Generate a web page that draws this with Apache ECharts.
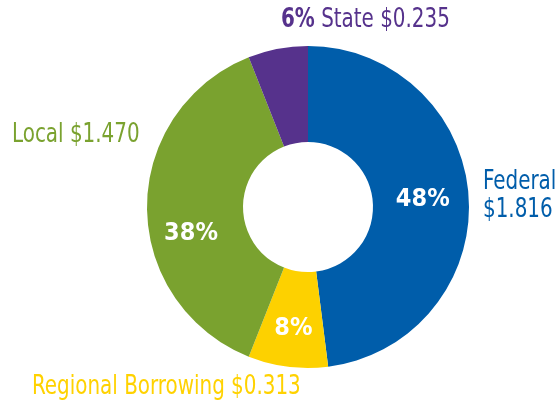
<!DOCTYPE html>
<html>
<head>
<meta charset="utf-8">
<script src="https://cdn.jsdelivr.net/npm/echarts@6/dist/echarts.min.js"></script>
<style>
  html, body { margin: 0; padding: 0; background: #fff; }
  #chart { width: 557px; height: 404px; }
</style>
</head>
<body>
<div id="chart"></div>
<script>
const names = ['Federal', 'Regional Borrowing', 'Local', 'State']
const amounts = [1.816, 0.313, 1.470, 0.235]
// the slices in the original follow the rounded shares
const shares = [48, 8, 38, 6]
const colors = ['#005DAA', '#FDD100', '#7AA22F', '#56328C']

const font = '"DejaVu Sans Condensed", "Liberation Sans Narrow", sans-serif'
const squeeze = 0.82

// small nudges so the inside labels sit where the original has them
const labelOffsets = [[-1, 0], [0, 6], [-1, 26], [0, 0]]

const chart = echarts.init(document.getElementById('chart'))

function outText(x, y, text, color, extra) {
  return {
    type: 'text', x: x, y: y, scaleX: squeeze,
    style: Object.assign({
      text: text, fill: color, font: '27px ' + font, verticalAlign: 'top'
    }, extra || {})
  }
}

chart.setOption({
  backgroundColor: '#ffffff',
  animation: false,
  series: [{
    type: 'pie',
    center: [308, 207],
    radius: [65, 161],
    startAngle: 90,
    clockwise: true,
    silent: true,
    itemStyle: { borderWidth: 0 },
    labelLine: { show: false },
    data: names.map((n, i) => ({
      name: n,
      value: shares[i],
      itemStyle: { color: colors[i] },
      label: {
        show: i < 3,
        position: 'inside',
        offset: labelOffsets[i],
        formatter: shares[i] + '%',
        color: '#fff',
        fontFamily: font,
        fontWeight: 'bold',
        fontSize: 25
      }
    }))
  }],
  graphic: [
    outText(281, 6, '{b|' + shares[3] + '%} ' + names[3] + ' $' + amounts[3].toFixed(3), colors[3], {
      rich: { b: { fontWeight: 'bold', fontSize: 27, fontFamily: font, fill: colors[3] } }
    }),
    outText(12, 121, names[2] + ' $' + amounts[2].toFixed(3), colors[2]),
    outText(483, 168, names[0] + '\n$' + amounts[0].toFixed(3), colors[0], { lineHeight: 28 }),
    outText(32, 373, names[1] + ' $' + amounts[1].toFixed(3), '#FFD200')
  ]
})
</script>
</body>
</html>
